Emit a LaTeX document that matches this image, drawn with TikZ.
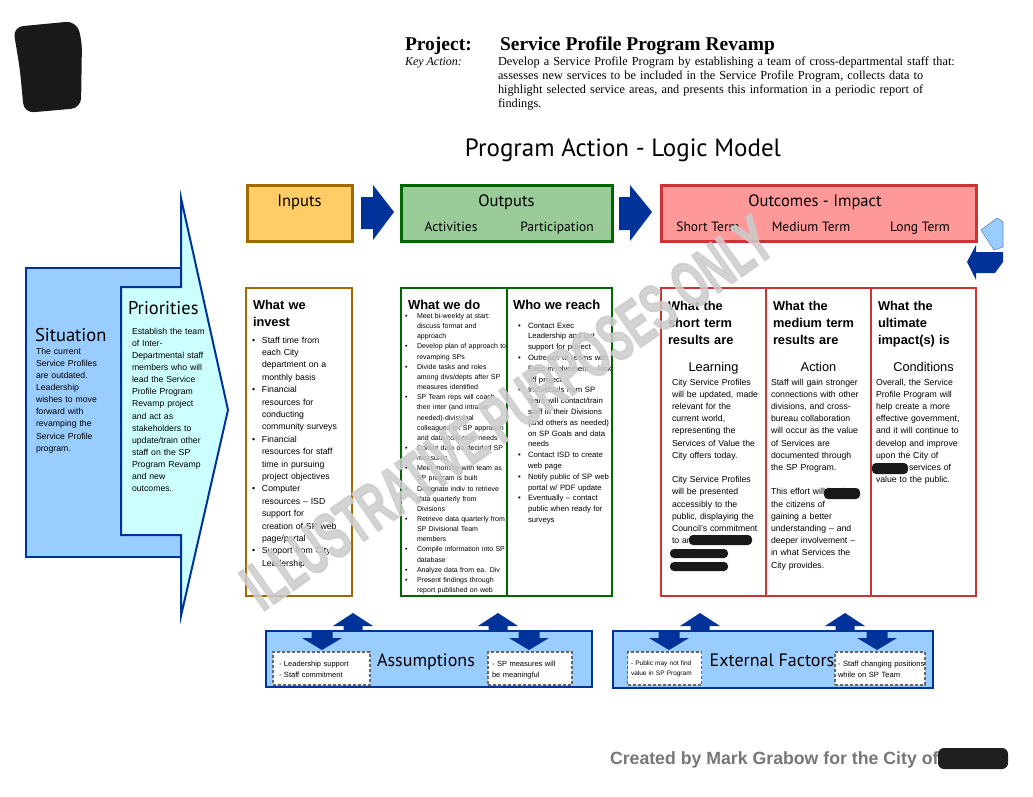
\documentclass[tikz,border=0pt]{standalone}
\usepackage{graphicx}
\usepackage{fontspec}
\setmainfont{Liberation Sans}
\newfontfamily\hdrfont{PT Sans}
\newfontfamily\serfont{Liberation Serif}
\newfontfamily\wmfont{Liberation Sans}[FakeBold=3]
\usetikzlibrary{calc}
\definecolor{infill}{HTML}{FFCC66}
\definecolor{inbrd}{HTML}{A06A00}
\definecolor{outfill}{HTML}{99CC99}
\definecolor{outbrd}{HTML}{006600}
\definecolor{ocfill}{HTML}{FF9999}
\definecolor{ocbrd}{HTML}{CC3333}
\definecolor{navy}{HTML}{003399}
\definecolor{skyfill}{HTML}{99CCFF}
\definecolor{cyanfill}{HTML}{CCFFFF}
\definecolor{footgray}{HTML}{777777}
\newcommand\bi[1]{\makebox[#1][l]{\textbullet}}
\newcommand\hi[1]{\hspace*{#1}}
\begin{document}
\begin{tikzpicture}[x=1pt,y=-1pt, every node/.style={inner sep=0pt, outer sep=0pt}]
\tikzset{
 boxhead/.style={font=\hdrfont\fontsize{16.5}{18}\selectfont, anchor=base},
 boxsub/.style={font=\hdrfont\fontsize{13.5}{15}\selectfont, anchor=base},
 coltitle/.style={font=\bfseries\fontsize{12.8}{17}\selectfont, anchor=base west, align=left, text width=100pt},
 bodytext/.style={font=\fontsize{8.7}{12.2}\selectfont, anchor=base west, align=left, text width=120pt},
 midhead/.style={font=\fontsize{12.8}{15}\selectfont, anchor=base},
 redact/.style={fill=black!90, rounded corners=4pt},
 dashbox/.style={draw=black!60, line width=1.2pt, fill=white, dash pattern=on 3pt off 2pt},
 bluebar/.style={draw=navy, fill=skyfill, line width=2pt},
 uparrow/.pic={\fill[navy] (-20,0) -- (0,-13) -- (20,0) -- (9.5,0) -- (9.5,5) -- (-9.5,5) -- (-9.5,0) -- cycle;},
 downarrow/.pic={\fill[navy] (-10.5,-8) -- (10.5,-8) -- (10.5,0) -- (20,0) -- (0,12) -- (-20,0) -- (-10.5,0) -- cycle;},
}
\useasboundingbox (0,0) rectangle (1033,797);
\fill[white] (0,0) rectangle (1033,797);

% logo area
\fill[black!90, rounded corners=10pt] (13,27) -- (76,21) -- (82,40) -- (81,108) -- (24,113) -- (20,70) -- cycle;

% project header
\node[font=\serfont\bfseries\fontsize{19.5}{22}\selectfont, anchor=base west] (projlbl) at (405,51) {Project:};
\node[font=\serfont\bfseries\fontsize{19.5}{22}\selectfont, anchor=base west] (projname) at (500,51) {Service Profile Program Revamp};
\node[font=\serfont\itshape\fontsize{12}{14}\selectfont, anchor=base west] (kalbl) at (405,66) {Key Action:};
\node[font=\serfont\fontsize{12.3}{14}\selectfont, anchor=base west, align=left, text width=520pt] (katext) at (498,66)
 {Develop a Service Profile Program by establishing a team of cross-departmental staff that:\\
  assesses new services to be included in the Service Profile Program, collects data to\\
  highlight selected service areas, and presents this information in a periodic report of\\
  findings.};

\node[font=\hdrfont\fontsize{25}{28}\selectfont, anchor=base] (maintitle) at (623,157) {Program Action - Logic Model};

% header boxes
\node[draw=inbrd, fill=infill, line width=3pt, minimum width=105pt, minimum height=56pt] (inputs) at (299.5,213) {};
\node[boxhead] (inputsT) at (299.5,206) {Inputs};
\node[draw=outbrd, fill=outfill, line width=3pt, minimum width=211pt, minimum height=56pt] (outputs) at (506.5,213) {};
\node[boxhead] (outputsT) at (506.5,206) {Outputs};
\node[boxsub] (activT) at (451,231) {Activities};
\node[boxsub] (partT) at (557,231) {Participation};
\node[draw=ocbrd, fill=ocfill, line width=3pt, minimum width=315pt, minimum height=56pt] (outcomes) at (818.5,213) {};
\node[boxhead] (outcomesT) at (815,206) {Outcomes - Impact};
\node[boxsub] (shortT) at (708,231) {Short Term};
\node[boxsub] (mediumT) at (811,231) {Medium Term};
\node[boxsub] (longT) at (920,231) {Long Term};

% block arrows between header boxes
\fill[navy] (361,197) -- (373,197) -- (373,185) -- (394,212) -- (373,240) -- (373,229) -- (361,229) -- cycle;
\fill[navy] (619,197) -- (630,197) -- (630,185) -- (652,212) -- (630,241) -- (630,230) -- (619,230) -- cycle;

% cycle symbol at right edge
\fill[skyfill, draw=navy!60, line width=0.6pt] (981,230) -- (997,218) -- (1003,222) -- (1003,247) -- (994,250) -- cycle;
\fill[navy] (967,262) -- (976,245) -- (976,252) -- (1003,252) -- (1003,262) -- (995,273) -- (976,273) -- (976,280) -- cycle;

% situation / priorities
\draw[navy, line width=2pt, fill=skyfill] (26,268) rectangle (181,557);
\draw[navy, line width=2pt, fill=cyanfill] (121,287) -- (181,287) -- (181,198) -- (228,410) -- (181,616) -- (181,535) -- (121,535) -- cycle;
\node[font=\hdrfont\fontsize{18.5}{20}\selectfont, anchor=base west] (sitT) at (35,341) {Situation};
\node[font=\fontsize{8.7}{12.15}\selectfont, anchor=base west, align=left, text width=85pt] (sitB) at (36,354)
 {The current\\Service Profiles\\are outdated.\\Leadership\\wishes to move\\forward with\\revamping the\\Service Profile\\program.};
\node[font=\hdrfont\fontsize{18.5}{20}\selectfont, anchor=base west] (priT) at (128,314) {Priorities};
\node[font=\fontsize{8.7}{12.15}\selectfont, anchor=base west, align=left, text width=90pt] (priB) at (132,334)
 {Establish the team\\of Inter-\\Departmental staff\\members who will\\lead the Service\\Profile Program\\Revamp project\\and act as\\stakeholders to\\update/train other\\staff on the SP\\Program Revamp\\and new\\outcomes.};

% inputs column
\node[draw=inbrd, line width=2.5pt, minimum width=106pt, minimum height=308pt] (invest) at (299,442) {};
\node[coltitle] (investT) at (253,309) {What we\\invest};
\node[font=\fontsize{8.7}{12.4}\selectfont, anchor=base west, align=left, text width=130pt] (investB) at (252,343)
 {\bi{10pt}Staff time from\\\hi{10pt}each City\\\hi{10pt}department on a\\\hi{10pt}monthly basis\\
  \bi{10pt}Financial\\\hi{10pt}resources for\\\hi{10pt}conducting\\\hi{10pt}community surveys\\
  \bi{10pt}Financial\\\hi{10pt}resources for staff\\\hi{10pt}time in pursuing\\\hi{10pt}project objectives\\
  \bi{10pt}Computer\\\hi{10pt}resources – ISD\\\hi{10pt}support for\\\hi{10pt}creation of SP web\\\hi{10pt}page/portal\\
  \bi{10pt}Support from City\\\hi{10pt}Leadership};

% outputs columns
\node[draw=outbrd, line width=2.5pt, minimum width=211pt, minimum height=308pt] (activ) at (506.5,442) {};
\draw[outbrd, line width=2.5pt] ([xshift=0.5pt]activ.north) -- ([xshift=0.5pt]activ.south);
\node[font=\bfseries\fontsize{13}{15}\selectfont, anchor=base west] (doT) at (408,309) {What we do};
\node[font=\fontsize{7}{10.15}\selectfont, anchor=base west, align=left, text width=140pt] (doB) at (405,318.5)
 {\bi{12pt}Meet bi-weekly at start:\\\hi{12pt}discuss format and\\\hi{12pt}approach\\
  \bi{12pt}Develop plan of approach to\\\hi{12pt}revamping SPs\\
  \bi{12pt}Divide tasks and roles\\\hi{12pt}among divs/depts after SP\\\hi{12pt}measures identified\\
  \bi{12pt}SP Team reps will coach\\\hi{12pt}their inter (and intra as\\\hi{12pt}needed)-divisional\\\hi{12pt}colleagues on SP approach\\\hi{12pt}and data collection needs\\
  \bi{12pt}Collect data on decided SP\\\hi{12pt}measures\\
  \bi{12pt}Meet monthly with team as\\\hi{12pt}SP program is built\\
  \bi{12pt}Designate indiv to retrieve\\\hi{12pt}data quarterly from\\\hi{12pt}Divisions\\
  \bi{12pt}Retrieve data quarterly from\\\hi{12pt}SP Divisional Team\\\hi{12pt}members\\
  \bi{12pt}Compile information into SP\\\hi{12pt}database\\
  \bi{12pt}Analyze data from ea. Div\\
  \bi{12pt}Present findings through\\\hi{12pt}report published on web};
\node[font=\bfseries\fontsize{13}{15}\selectfont, anchor=base west] (reachT) at (513,309) {Who we reach};
\node[font=\fontsize{7.7}{10.8}\selectfont, anchor=base west, align=left, text width=130pt] (reachB) at (518,328)
 {\bi{10pt}Contact Exec\\\hi{10pt}Leadership and get\\\hi{10pt}support for project\\
  \bi{10pt}Outreach to teams with\\\hi{10pt}Exec involvement – kick\\\hi{10pt}off project\\
  \bi{10pt}Individuals from SP\\\hi{10pt}team will contact/train\\\hi{10pt}staff in their Divisions\\\hi{10pt}(and others as needed)\\\hi{10pt}on SP Goals and data\\\hi{10pt}needs\\
  \bi{10pt}Contact ISD to create\\\hi{10pt}web page\\
  \bi{10pt}Notify public of SP web\\\hi{10pt}portal w/ PDF update\\
  \bi{10pt}Eventually – contact\\\hi{10pt}public when ready for\\\hi{10pt}surveys};

% outcomes columns
\node[draw=ocbrd, line width=2.5pt, minimum width=315pt, minimum height=308pt] (oc) at (818.5,442) {};
\draw[ocbrd, line width=2.5pt] ($(oc.north west)!1/3!(oc.north east)$) -- ($(oc.south west)!1/3!(oc.south east)$);
\draw[ocbrd, line width=2.5pt] ($(oc.north west)!2/3!(oc.north east)$) -- ($(oc.south west)!2/3!(oc.south east)$);
\node[coltitle] (shortH) at (668,310) {What the\\short term\\results are};
\node[coltitle] (mediumH) at (773,310) {What the\\medium term\\results are};
\node[coltitle] (longH) at (878,310) {What the\\ultimate\\impact(s) is};
\node[midhead] (learnT) at (713.5,371) {Learning};
\node[midhead] (actionT) at (818.5,371) {Action};
\node[midhead] (condT) at (923.5,371) {Conditions};
\node[bodytext] (shortB) at (672,385)
 {City Service Profiles\\will be updated, made\\relevant for the\\current world,\\representing the\\Services of Value the\\City offers today.\\[12.2pt]
  City Service Profiles\\will be presented\\accessibly to the\\public, displaying the\\Council’s commitment\\to an};
\node[bodytext] (mediumB) at (771,385)
 {Staff will gain stronger\\connections with other\\divisions, and cross-\\bureau collaboration\\will occur as the value\\of Services are\\documented through\\the SP Program.\\[12.2pt]
  This effort will lead to\\the citizens of\\gaining a better\\understanding – and\\deeper involvement –\\in what Services the\\City provides.};
\node[bodytext] (longB) at (876,385)
 {Overall, the Service\\Profile Program will\\help create a more\\effective government,\\and it will continue to\\develop and improve\\upon the City of\\\hi{33pt}services of\\value to the public.};
\fill[redact] (689,535) rectangle (752,545);
\fill[redact] (670,549) rectangle (728,558);
\fill[redact] (670,562) rectangle (728,571);
\fill[redact] (824,488) rectangle (860,499);
\fill[redact] (872,463) rectangle (908,474);

% assumptions
\draw[bluebar] (266,631) rectangle (592,687);
\node[font=\hdrfont\fontsize{18}{20}\selectfont, anchor=base] (assT) at (426,666) {Assumptions};
\node[dashbox, minimum width=97pt, minimum height=33pt] (assL) at (321.5,668.5) {};
\node[font=\fontsize{7.5}{11}\selectfont, anchor=base west, align=left, text width=95pt] (assLT) at (279,666)
 {- Leadership support\\- Staff commitment};
\node[dashbox, minimum width=84pt, minimum height=33pt] (assR) at (530,668.5) {};
\node[font=\fontsize{7.5}{11}\selectfont, anchor=base west, align=left, text width=82pt] (assRT) at (492,666)
 {- SP measures will\\be meaningful};
\pic at (353,626) {uparrow};
\pic at (498,626) {uparrow};
\pic at (322,638) {downarrow};
\pic at (529,638) {downarrow};

% external factors
\draw[bluebar] (613,631) rectangle (933,688);
\node[font=\hdrfont\fontsize{18}{20}\selectfont, anchor=base] (extT) at (772,666) {External Factors};
\node[dashbox, minimum width=74pt, minimum height=33pt] (extL) at (664.5,668.5) {};
\node[font=\fontsize{6.5}{10}\selectfont, anchor=base west, align=left, text width=72pt] (extLT) at (631,665)
 {- Public may not find\\value in SP Program};
\node[dashbox, minimum width=90pt, minimum height=33pt] (extR) at (880,668.5) {};
\node[font=\fontsize{7.6}{11}\selectfont, anchor=base west, align=left, text width=95pt] (extRT) at (838,666)
 {- Staff changing positions\\while on SP Team};
\pic at (700,626) {uparrow};
\pic at (845,626) {uparrow};
\pic at (669,638) {downarrow};
\pic at (877,638) {downarrow};

% footer
\node[font=\bfseries\fontsize{17.7}{20}\selectfont, text=footgray, anchor=base west] (footer) at (610,764) {Created by Mark Grabow for the City of};
\fill[black!88, rounded corners=6pt] (938,748) rectangle (1008,769);

% watermark
\node[rotate=35, text=black!20, opacity=0.85] (wm) at (507,413) {\scalebox{0.6}[1]{\wmfont\bfseries\fontsize{66}{70}\selectfont ILLUSTRATIVE PURPOSES ONLY}};
\end{tikzpicture}
\end{document}
